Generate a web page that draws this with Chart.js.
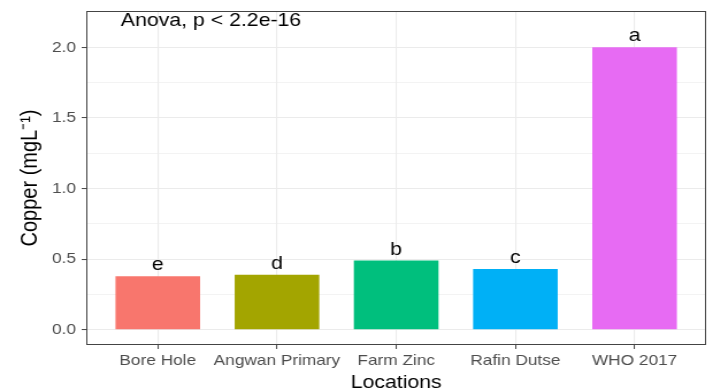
<!DOCTYPE html>
<html>
<head>
<meta charset="utf-8">
<script src="https://cdn.jsdelivr.net/npm/chart.js@4.4.1/dist/chart.umd.min.js"></script>
<style>
  html, body { margin: 0; padding: 0; background: #fff; overflow: hidden; }
  /* the figure is drawn at 620px wide and widened to 713px */
  #wrap { position: absolute; left: 0; top: 0; width: 620px; height: 392px;
          transform: scaleX(1.15); transform-origin: 0 0; }
</style>
</head>
<body>
<div id="wrap"><canvas id="c"></canvas></div>
<script>
// Copper concentration by sampling location
const locations = ['Bore Hole', 'Angwan Primary', 'Farm Zinc', 'Rafin Dutse', 'WHO 2017'];
const copper = [0.38, 0.39, 0.49, 0.43, 2.0];
const groupLetters = ['e', 'd', 'b', 'c', 'a'];
const yTickValues = [0, 0.25, 0.5, 0.75, 1, 1.25, 1.5, 1.75, 2];
const testLabel = 'Anova, p < 2.2e-16';

const barColors = ['#F8766D', '#A3A500', '#00BF7D', '#00B0F6', '#E76BF3'];
const FONT = '"Liberation Sans", Arial, Helvetica, sans-serif';
const isMajor = v => Math.abs(v * 2 - Math.round(v * 2)) < 1e-9;

// letters above bars, test result, and the panel frame
const annotations = {
  id: 'annotations',
  afterDatasetsDraw(chart) {
    const { ctx, chartArea: a, scales: { x, y } } = chart;
    ctx.save();
    ctx.fillStyle = '#000';
    ctx.font = '18.5px ' + FONT;
    ctx.textBaseline = 'alphabetic';
    ctx.textAlign = 'center';
    copper.forEach((v, i) => {
      ctx.fillText(groupLetters[i], x.getPixelForValue(i), y.getPixelForValue(v) - 6);
    });
    ctx.textAlign = 'left';
    ctx.fillText(testLabel, x.getPixelForValue(-0.31), y.getPixelForValue(2.15));
    ctx.strokeStyle = '#444';
    ctx.lineWidth = 1;
    ctx.strokeRect(Math.round(a.left) + 0.5, Math.round(a.top) + 0.5,
                   Math.round(a.right - a.left) - 1, Math.round(a.bottom - a.top) - 1);
    ctx.restore();
  }
};

new Chart(document.getElementById('c'), {
  type: 'bar',
  data: {
    datasets: [{
      data: copper.map((v, i) => ({ x: i, y: v })),
      backgroundColor: barColors,
      borderWidth: 0,
      categoryPercentage: 1,
      barPercentage: 0.71
    }]
  },
  options: {
    responsive: true,
    maintainAspectRatio: false,
    animation: false,
    layout: { padding: { top: 11, right: 6, left: 0, bottom: 0 } },
    plugins: { legend: { display: false }, tooltip: { enabled: false } },
    scales: {
      x: {
        type: 'linear',
        min: -0.6,
        max: 4.6,
        offset: false,
        afterBuildTicks: s => { s.ticks = locations.map((_, i) => ({ value: i })); },
        afterFit: s => { s.height = 47; s.paddingLeft = 0; s.paddingRight = 0; },
        border: { display: false },
        grid: { offset: false, color: '#ebebeb', lineWidth: 1.1, tickColor: '#444', tickLength: 4, tickWidth: 1 },
        ticks: {
          autoSkip: false, maxRotation: 0, padding: 3,
          color: '#4d4d4d', font: { family: FONT, size: 15 },
          callback: v => locations[v] ?? ''
        },
        title: {
          display: true, text: 'Locations', color: '#000',
          font: { family: FONT, size: 18.5 }, padding: { top: 0, bottom: -2 }
        }
      },
      y: {
        min: -0.1075,
        max: 2.2575,
        afterBuildTicks: s => { s.ticks = yTickValues.map(v => ({ value: v })); },
        afterFit: s => { s.width = 75; s.paddingTop = 0; s.paddingBottom = 0; },
        border: { display: false },
        grid: {
          color: '#ebebeb',
          lineWidth: c => (c.tick && isMajor(c.tick.value)) ? 1.1 : 0.6,
          tickColor: c => (c.tick && isMajor(c.tick.value)) ? '#444' : 'rgba(0,0,0,0)',
          tickLength: 4, tickWidth: 1
        },
        ticks: {
          padding: 5, color: '#4d4d4d', font: { family: FONT, size: 15 },
          callback: v => isMajor(v) ? v.toFixed(1) : ''
        },
        title: {
          display: true, text: 'Copper (mgL\u207B\u00B9)', color: '#000',
          font: { family: FONT, size: 20 }, padding: { top: 14, bottom: 0 }
        }
      }
    }
  },
  plugins: [annotations]
});
</script>
</body>
</html>
